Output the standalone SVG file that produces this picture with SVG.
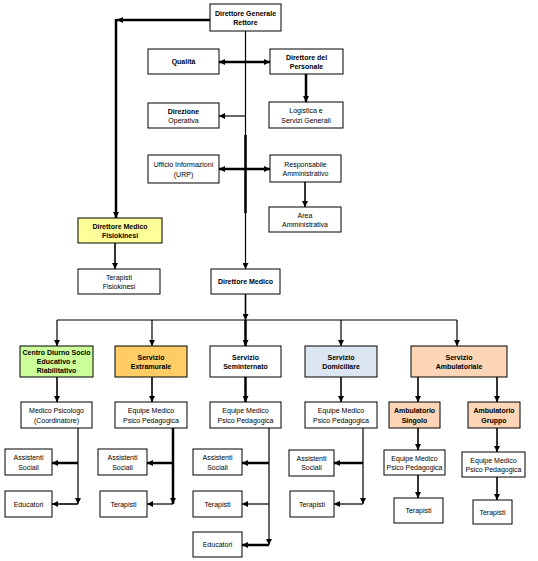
<svg xmlns="http://www.w3.org/2000/svg" width="538" height="561" viewBox="0 0 538 561">
<style>
.b{fill:#fff;stroke:#000;stroke-width:1}
.y{fill:#FFFF99}.g{fill:#CCFF99}.o{fill:#FFCC66}.bl{fill:#DCE6F2}.p{fill:#FBD5B5}
text{font-family:"Liberation Sans",Arial,sans-serif;font-size:7px;text-anchor:middle;fill:#000}
.t{font-weight:bold}
.c{fill:none;stroke:#000;stroke-width:1.2}
.k{stroke-width:2.5}
.m{stroke-width:1.6}
.ar{marker-end:url(#a)}
.ds{marker-start:url(#a);marker-end:url(#a)}
</style>
<defs>
<marker id="a" viewBox="0 0 10 10" refX="10" refY="5" markerWidth="6" markerHeight="6" markerUnits="userSpaceOnUse" orient="auto-start-reverse"><path d="M0,0L10,5L0,10z" fill="#000"/></marker>
</defs>
<rect width="538" height="561" fill="#fff"/>
<g id="connectors">
<path class="c k ar" d="M210,20H117"/>
<path class="c k ar" d="M116,19V218"/>
<path class="c ar" d="M245.5,31V269"/>
<path class="c k" d="M245.5,135V213"/>
<path class="c k ds" d="M219,62H270"/>
<path class="c k ar" d="M306,74V102"/>
<path class="c ar" d="M245,116H219"/>
<path class="c k ds" d="M219,169H270"/>
<path class="c m ar" d="M305,182V207"/>
<path class="c m ar" d="M115,243V269"/>
<path class="c m ar" d="M245.5,294V320"/>
<path class="c" d="M57,320H457"/>
<path class="c ar" d="M57,320V346"/>
<path class="c ar" d="M152,320V346"/>
<path class="c k ar" d="M245.5,320V346"/>
<path class="c ar" d="M341,320V346"/>
<path class="c ar" d="M457,320V346"/>
<path class="c m ar" d="M57,377V402"/>
<path class="c m ar" d="M152,377V402"/>
<path class="c k ar" d="M245.5,377V402"/>
<path class="c m ar" d="M341,377V402"/>
<path class="c m ar" d="M418,377V402"/>
<path class="c m ar" d="M497,377V402"/>
<path class="c ar" d="M78,428V504"/>
<path class="c k ar" d="M78,463H52"/>
<path class="c m ar" d="M78,504H52"/>
<path class="c k ar" d="M173,428V504"/>
<path class="c k ar" d="M173,463H147"/>
<path class="c ar" d="M173,504H147"/>
<path class="c ar" d="M269,428V545"/>
<path class="c k ar" d="M269,463H242"/>
<path class="c ar" d="M269,504H242"/>
<path class="c k ar" d="M269,545H242"/>
<path class="c ar" d="M363,428V504"/>
<path class="c k ar" d="M363,463H334"/>
<path class="c ar" d="M363,504H334"/>
<path class="c m ar" d="M418,428V450"/>
<path class="c m ar" d="M418,475V498"/>
<path class="c m ar" d="M497,428V452"/>
<path class="c m ar" d="M497,477V500"/>
</g>
<g id="dg"><rect class="b" x="210" y="4" width="71" height="27"/><text class="t" x="245.5" y="15.5">Direttore Generale</text><text class="t" x="245.5" y="25">Rettore</text></g>
<g id="qualita"><rect class="b" x="148" y="49" width="71" height="25"/><text class="t" x="183.5" y="64">Qualità</text></g>
<g id="ddp"><rect class="b" x="270" y="49" width="73" height="25"/><text class="t" x="306.5" y="59.5">Direttore del</text><text class="t" x="306.5" y="69">Personale</text></g>
<g id="dirop"><rect class="b" x="148" y="103" width="71" height="25"/><text class="t" x="183.5" y="113.5">Direzione</text><text x="183.5" y="123">Operativa</text></g>
<g id="logistica"><rect class="b" x="269" y="102" width="74" height="26"/><text x="306" y="113">Logistica e</text><text x="306" y="122.5">Servizi Generali</text></g>
<g id="urp"><rect class="b" x="148" y="155" width="71" height="28"/><text x="183.5" y="167">Ufficio Informazioni</text><text x="183.5" y="176.5">(URP)</text></g>
<g id="respamm"><rect class="b" x="270" y="155" width="71" height="27"/><text x="305.5" y="166.5">Responsabile</text><text x="305.5" y="176">Amministrativo</text></g>
<g id="areaamm"><rect class="b" x="269" y="207" width="72" height="25"/><text x="305" y="217.5">Area</text><text x="305" y="227">Amministrativa</text></g>
<g id="dmf"><rect class="b y" x="78" y="218" width="84" height="25"/><text class="t" x="120" y="228.5">Direttore Medico</text><text class="t" x="120" y="238">Fisiokinesi</text></g>
<g id="terfis"><rect class="b" x="78" y="269" width="82" height="25"/><text x="119" y="279.5">Terapisti</text><text x="119" y="289">Fisiokinesi</text></g>
<g id="dm"><rect class="b" x="211" y="269" width="69" height="25"/><text class="t" x="245.5" y="284">Direttore Medico</text></g>
<g id="centro"><rect class="b g" x="20" y="346" width="73" height="31"/><text class="t" x="56.5" y="355">Centro Diurno Socio</text><text class="t" x="56.5" y="364">Educativo e</text><text class="t" x="56.5" y="373">Riabilitativo</text></g>
<g id="extra"><rect class="b o" x="115" y="346" width="72" height="31"/><text class="t" x="151" y="359.5">Servizio</text><text class="t" x="151" y="369">Extramurale</text></g>
<g id="semi"><rect class="b" x="210" y="346" width="71" height="31"/><text class="t" x="245.5" y="359.5">Servizio</text><text class="t" x="245.5" y="369">Seminternato</text></g>
<g id="domi"><rect class="b bl" x="305" y="346" width="72" height="31"/><text class="t" x="341" y="359.5">Servizio</text><text class="t" x="341" y="369">Domiciliare</text></g>
<g id="ambu"><rect class="b p" x="411" y="346" width="96" height="31"/><text class="t" x="459" y="359.5">Servizio</text><text class="t" x="459" y="369">Ambulatoriale</text></g>
<g id="medpsi"><rect class="b" x="21" y="402" width="71" height="26"/><text x="56.5" y="413">Medico Psicologo</text><text x="56.5" y="422.5">(Coordinatore)</text></g>
<g id="eq2"><rect class="b" x="115" y="402" width="72" height="26"/><text x="151" y="413">Equipe Medico</text><text x="151" y="422.5">Psico Pedagogica</text></g>
<g id="eq3"><rect class="b" x="210" y="402" width="71" height="26"/><text x="245.5" y="413">Equipe Medico</text><text x="245.5" y="422.5">Psico Pedagogica</text></g>
<g id="eq4"><rect class="b" x="305" y="402" width="72" height="26"/><text x="341" y="413">Equipe Medico</text><text x="341" y="422.5">Psico Pedagogica</text></g>
<g id="ambsing"><rect class="b p" x="389" y="402" width="51" height="26"/><text class="t" x="414.5" y="413">Ambulatorio</text><text class="t" x="414.5" y="422.5">Singolo</text></g>
<g id="ambgru"><rect class="b p" x="468" y="402" width="52" height="26"/><text class="t" x="494" y="413">Ambulatorio</text><text class="t" x="494" y="422.5">Gruppo</text></g>
<g id="as1"><rect class="b" x="5" y="449" width="47" height="26"/><text x="28.5" y="460">Assistenti</text><text x="28.5" y="469.5">Sociali</text></g>
<g id="ed1"><rect class="b" x="5" y="491" width="47" height="26"/><text x="28.5" y="506.5">Educatori</text></g>
<g id="as2"><rect class="b" x="98" y="449" width="49" height="26"/><text x="122.5" y="460">Assistenti</text><text x="122.5" y="469.5">Sociali</text></g>
<g id="te2"><rect class="b" x="100" y="491" width="47" height="26"/><text x="123.5" y="506.5">Terapisti</text></g>
<g id="as3"><rect class="b" x="193" y="449" width="49" height="26"/><text x="217.5" y="460">Assistenti</text><text x="217.5" y="469.5">Sociali</text></g>
<g id="te3"><rect class="b" x="193" y="491" width="49" height="26"/><text x="217.5" y="506.5">Terapisti</text></g>
<g id="ed3"><rect class="b" x="193" y="532" width="49" height="25"/><text x="217.5" y="547">Educatori</text></g>
<g id="as4"><rect class="b" x="289" y="450" width="45" height="26"/><text x="311.5" y="460.5">Assistenti</text><text x="311.5" y="470">Sociali</text></g>
<g id="te4"><rect class="b" x="290" y="491" width="44" height="26"/><text x="312" y="506.5">Terapisti</text></g>
<g id="eq5"><rect class="b" x="384" y="450" width="61" height="25"/><text x="414.5" y="460.5">Equipe Medico</text><text x="414.5" y="470">Psico Pedagogica</text></g>
<g id="te5"><rect class="b" x="394" y="498" width="49" height="25"/><text x="418.5" y="513">Terapisti</text></g>
<g id="eq6"><rect class="b" x="462" y="452" width="63" height="25"/><text x="493.5" y="462.5">Equipe Medico</text><text x="493.5" y="472">Psico Pedagogica</text></g>
<g id="te6"><rect class="b" x="473" y="500" width="39" height="24"/><text x="492.5" y="514.5">Terapisti</text></g>
</svg>
